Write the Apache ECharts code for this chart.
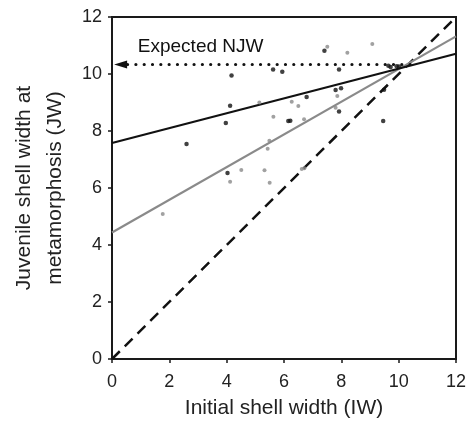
<!DOCTYPE html>
<html>
<head>
<meta charset="utf-8">
<script src="https://cdn.jsdelivr.net/npm/echarts@6/dist/echarts.min.js"></script>
<style>html,body{margin:0;padding:0;background:#fff}#c{width:469px;height:423px}</style>
</head>
<body>
<div id="c"></div>
<script>
var xTicks = [0, 2, 4, 6, 8, 10, 12];
var yTicks = [0, 2, 4, 6, 8, 10, 12];
var blackPoints = [[4.17,9.95],[5.62,10.16],[5.94,10.08],[7.92,10.16],[9.64,10.29],[9.72,10.25],[9.93,10.27],[10.01,10.26],[7.41,10.82],[7.80,9.44],[7.99,9.50],[7.92,8.68],[9.49,9.45],[4.12,8.89],[6.79,9.19],[6.15,8.35],[6.22,8.36],[3.97,8.28],[9.46,8.35],[4.03,6.53],[2.60,7.54]];
var greyPoints = [[7.51,10.96],[8.21,10.75],[9.08,11.05],[7.86,9.23],[7.80,8.82],[5.14,9.00],[6.27,9.03],[6.50,8.88],[5.63,8.50],[6.70,8.41],[5.49,7.66],[5.43,7.38],[4.51,6.63],[5.32,6.62],[4.12,6.22],[5.50,6.18],[6.62,6.67],[6.71,6.69],[1.77,5.09]];
var blackFit = [[0,7.58],[12,10.71]];
var greyFit = [[0,4.44],[12,11.32]];
var identityLine = [[0,0],[12,12]];
var expectedNJW = 10.33;
var arrowFromTo = [10.4, 0.3];
var annotation = {text: 'Expected NJW', x: 0.9, y: 10.95};

var chart = echarts.init(document.getElementById('c'));
var font = 'Liberation Sans, Arial, Helvetica, sans-serif';
chart.setOption({
  animation: false,
  grid: {left: 112, right: 13, top: 17, bottom: 64, show: true, borderColor: '#1a1a1a', borderWidth: 2, backgroundColor: 'transparent', containLabel: false, outerBoundsMode: 'none'},
  xAxis: {
    type: 'value', min: 0, max: 12, interval: 2,
    name: 'Initial shell width (IW)', nameLocation: 'middle', nameGap: 39,
    nameTextStyle: {fontSize: 21, color: '#222', fontFamily: font},
    axisLine: {show: true, lineStyle: {color: '#1a1a1a', width: 2}},
    axisTick: {show: true, length: 4, lineStyle: {color: '#1a1a1a', width: 1.5}},
    axisLabel: {fontSize: 18, color: '#222', fontFamily: font, margin: 14},
    splitLine: {show: false}
  },
  yAxis: {
    type: 'value', min: 0, max: 12, interval: 2,
    name: 'Juvenile shell width at\nmetamorphosis (JW)', nameLocation: 'middle', nameGap: 36,
    nameTextStyle: {fontSize: 21, color: '#222', fontFamily: font, lineHeight: 31},
    axisLine: {show: true, lineStyle: {color: '#1a1a1a', width: 2}},
    axisTick: {show: true, length: 4, lineStyle: {color: '#1a1a1a', width: 1.5}},
    axisLabel: {fontSize: 18, color: '#222', fontFamily: font, margin: 10},
    splitLine: {show: false}
  },
  series: [
    {type: 'line', data: identityLine, symbol: 'none', lineStyle: {color: '#111', width: 2.5, type: [11, 7]}, z: 2},
    {type: 'line', data: greyFit, symbol: 'none', lineStyle: {color: '#8a8a8a', width: 2.2}, z: 3},
    {type: 'line', data: blackFit, symbol: 'none', lineStyle: {color: '#111', width: 2.2}, z: 3},
    {type: 'scatter', data: greyPoints, symbolSize: 4, itemStyle: {color: '#8a8a8a'}, z: 4},
    {type: 'scatter', data: blackPoints, symbolSize: 4.5, itemStyle: {color: '#111'}, z: 5},
    {type: 'scatter', data: [], z: 6,
      markLine: {
        silent: true, animation: false,
        symbol: ['none', 'triangle'], symbolSize: [8, 13],
        label: {show: false},
        lineStyle: {color: '#111', width: 3.2, type: [0.01, 8.3], cap: 'round'},
        data: [[{coord: [arrowFromTo[0], expectedNJW]}, {coord: [arrowFromTo[1], expectedNJW]}]]
      },
      markPoint: {
        symbol: 'circle', symbolSize: 0,
        label: {show: true, formatter: annotation.text, position: 'right', distance: 0, fontSize: 19, color: '#111', fontFamily: font},
        data: [{coord: [annotation.x, annotation.y]}]
      }
    }
  ]
});
</script>
</body>
</html>
